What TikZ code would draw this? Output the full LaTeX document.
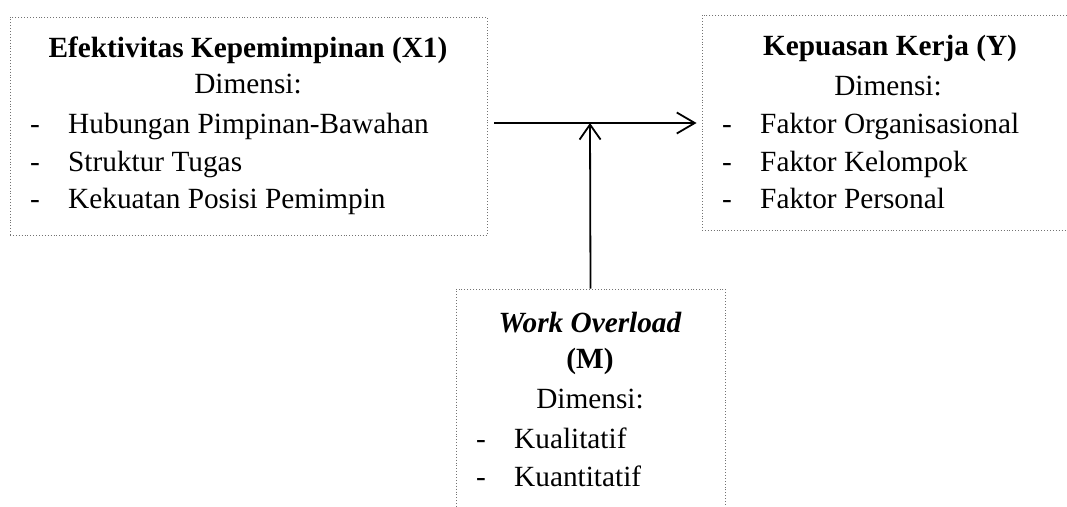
\documentclass[tikz,border=0pt]{standalone}
\usepackage{fontspec}
\setmainfont{Liberation Serif}
\usetikzlibrary{arrows.meta}
\tikzset{
  box/.style={draw=black!55, dotted, line width=0.9pt, rectangle, inner sep=0pt},
  txt/.style={font=\fontsize{29.3}{33}\selectfont, inner sep=0pt, anchor=base west},
  ctxt/.style={font=\fontsize{29.3}{33}\selectfont, inner sep=0pt, anchor=base},
  conn/.style={line width=1.8pt, -{Straight Barb[length=18pt,width=21pt,line width=1.8pt]}},
  conn2/.style={line width=1.8pt, -{Straight Barb[length=15pt,width=21pt,line width=1.8pt]}}
}
\begin{document}
\begin{tikzpicture}[x=1pt,y=-1pt]
\clip (0,0) rectangle (1067,506);
\fill[white] (0,0) rectangle (1067,506);
% boxes
\node[box, minimum width=477pt, minimum height=218pt] (X) at (248.5,126) {};
\node[box, minimum width=378pt, minimum height=215pt] (Y) at (891,122.5) {};
\node[box, minimum width=269pt, minimum height=231pt] (M) at (590.5,404.5) {};
% X1 texts
\node[ctxt] (xt) at (248,57) {\bfseries Efektivitas Kepemimpinan (X1)};
\node[ctxt] (xd) at (248,93) {Dimensi:};
\node[txt] (xa) at (68,133) {Hubungan Pimpinan-Bawahan};
\node[txt] (xb) at (68,171) {Struktur Tugas};
\node[txt] (xc) at (68,208) {Kekuatan Posisi Pemimpin};
\node[txt] (xad) at (30,133) {-};
\node[txt] (xbd) at (30,171) {-};
\node[txt] (xcd) at (30,208) {-};
% Y texts
\node[ctxt] (yt) at (890,55) {\bfseries Kepuasan Kerja (Y)};
\node[ctxt] (yd) at (888,95) {Dimensi:};
\node[txt] (ya) at (760,133) {Faktor Organisasional};
\node[txt] (yb) at (760,171) {Faktor Kelompok};
\node[txt] (yc) at (760,208) {Faktor Personal};
\node[txt] (yad) at (722,133) {-};
\node[txt] (ybd) at (722,171) {-};
\node[txt] (ycd) at (722,208) {-};
% M texts
\node[ctxt] (mt) at (590,332) {\bfseries\itshape Work Overload};
\node[ctxt] (mm) at (590,368) {\bfseries (M)};
\node[ctxt] (md) at (590,408) {Dimensi:};
\node[txt] (ma) at (514,448) {Kualitatif};
\node[txt] (mb) at (514,486) {Kuantitatif};
\node[txt] (mad) at (476,448) {-};
\node[txt] (mbd) at (476,486) {-};
% connectors
\coordinate (hs) at (494,123);
\coordinate (jn) at (590,123);
\draw[conn] (hs) -- (Y.west |- hs) [shorten >=5pt];
\draw[conn2] (M.north) -- (jn);
\end{tikzpicture}
\end{document}
